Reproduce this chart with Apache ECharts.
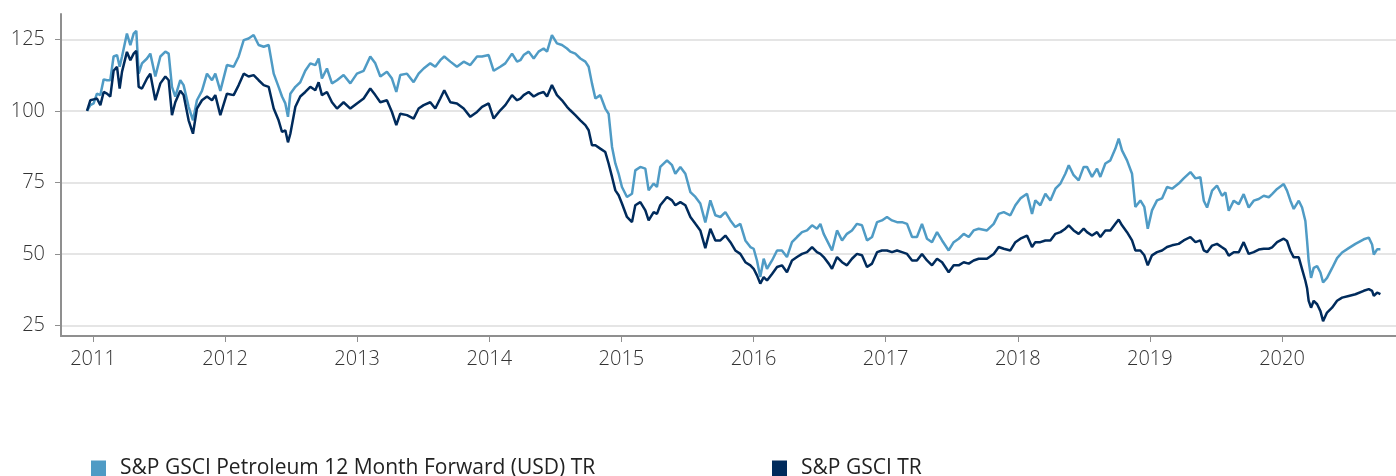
<!DOCTYPE html>
<html>
<head>
<meta charset="utf-8">
<script src="https://cdn.jsdelivr.net/npm/echarts@6/dist/echarts.min.js"></script>
<style>
  html, body { margin: 0; padding: 0; background: #fff; }
  #chart { width: 1396px; height: 476px; }
</style>
</head>
<body>
<div id="chart"></div>
<script>
// decimal year of each reading, shared by both series
const dates = [
  2010.955, 2010.980, 2011.005, 2011.030, 2011.056, 2011.081, 2011.106, 2011.131, 2011.156, 2011.182,
  2011.202, 2011.220, 2011.257, 2011.283, 2011.308, 2011.328, 2011.346, 2011.371, 2011.409, 2011.434,
  2011.472, 2011.510, 2011.548, 2011.573, 2011.598, 2011.623, 2011.661, 2011.686, 2011.724, 2011.757,
  2011.787, 2011.825, 2011.863, 2011.901, 2011.926, 2011.964, 2012.014, 2012.065, 2012.103, 2012.141,
  2012.178, 2012.216, 2012.254, 2012.292, 2012.330, 2012.368, 2012.405, 2012.431, 2012.456, 2012.476,
  2012.494, 2012.532, 2012.569, 2012.607, 2012.645, 2012.683, 2012.708, 2012.733, 2012.771, 2012.809,
  2012.847, 2012.897, 2012.948, 2012.998, 2013.049, 2013.099, 2013.137, 2013.175, 2013.225, 2013.263,
  2013.296, 2013.326, 2013.377, 2013.427, 2013.465, 2013.503, 2013.553, 2013.591, 2013.629, 2013.659,
  2013.705, 2013.755, 2013.806, 2013.856, 2013.907, 2013.945, 2013.995, 2014.033, 2014.083, 2014.121,
  2014.172, 2014.210, 2014.235, 2014.260, 2014.298, 2014.336, 2014.373, 2014.411, 2014.437, 2014.474,
  2014.512, 2014.550, 2014.588, 2014.613, 2014.651, 2014.689, 2014.727, 2014.752, 2014.777, 2014.803,
  2014.840, 2014.878, 2014.903, 2014.929, 2014.954, 2014.979, 2015.004, 2015.042, 2015.080, 2015.105,
  2015.143, 2015.181, 2015.206, 2015.244, 2015.269, 2015.294, 2015.345, 2015.383, 2015.408, 2015.446,
  2015.484, 2015.522, 2015.560, 2015.597, 2015.635, 2015.673, 2015.711, 2015.749, 2015.787, 2015.825,
  2015.862, 2015.900, 2015.938, 2015.976, 2016.001, 2016.026, 2016.051, 2016.077, 2016.102, 2016.140,
  2016.178, 2016.215, 2016.253, 2016.291, 2016.329, 2016.367, 2016.405, 2016.443, 2016.480, 2016.506,
  2016.531, 2016.569, 2016.594, 2016.632, 2016.670, 2016.707, 2016.745, 2016.783, 2016.821, 2016.859,
  2016.897, 2016.935, 2016.972, 2017.010, 2017.048, 2017.086, 2017.124, 2017.162, 2017.200, 2017.237,
  2017.275, 2017.313, 2017.351, 2017.389, 2017.427, 2017.477, 2017.515, 2017.553, 2017.591, 2017.629,
  2017.666, 2017.704, 2017.767, 2017.818, 2017.856, 2017.894, 2017.944, 2017.982, 2018.020, 2018.070,
  2018.108, 2018.133, 2018.171, 2018.209, 2018.247, 2018.285, 2018.323, 2018.360, 2018.386, 2018.423,
  2018.461, 2018.499, 2018.524, 2018.562, 2018.600, 2018.625, 2018.663, 2018.701, 2018.739, 2018.764,
  2018.789, 2018.827, 2018.865, 2018.890, 2018.928, 2018.958, 2018.984, 2019.016, 2019.054, 2019.092,
  2019.130, 2019.168, 2019.218, 2019.256, 2019.307, 2019.345, 2019.382, 2019.408, 2019.433, 2019.471,
  2019.508, 2019.546, 2019.572, 2019.597, 2019.635, 2019.673, 2019.710, 2019.748, 2019.786, 2019.824,
  2019.862, 2019.900, 2019.925, 2019.963, 2020.013, 2020.038, 2020.064, 2020.089, 2020.127, 2020.152,
  2020.177, 2020.190, 2020.202, 2020.220, 2020.240, 2020.266, 2020.291, 2020.311, 2020.341, 2020.379,
  2020.417, 2020.455, 2020.505, 2020.556, 2020.619, 2020.657, 2020.682, 2020.695, 2020.720, 2020.745
]

const petroleum = [
  100, 102, 102.6, 106, 105.5, 111, 110.7, 110.7, 119, 119.5,
  115.4, 119, 127, 123, 127, 128, 113, 116.6, 118.3, 120,
  112, 119, 120.7, 120, 108.4, 105, 110.7, 109, 101.4, 96.7,
  103.7, 107, 113, 110.7, 113, 107, 116, 115.4, 119, 124.7,
  125.3, 126.5, 123, 122.4, 123, 113, 108.4, 105, 102.6, 97.9,
  106, 108.4, 110, 114, 116.6, 116, 118.3, 111.3, 114.8, 109.6,
  110.7, 112.5, 109.6, 113, 114, 119, 116.6, 112, 113.7, 111.3,
  106.6, 112.5, 113, 110, 113, 114.8, 116.6, 115.4, 117.7, 119,
  117.2, 115.4, 117.2, 116, 119, 119, 119.5, 114, 115.4, 116.6,
  120, 117.2, 117.7, 119.5, 120.7, 118.3, 120.7, 121.8, 120.7, 126.5,
  123.6, 123, 121.8, 120.7, 120, 118.3, 117.2, 115.4, 109.6, 104.3,
  105.5, 100.8, 99, 87.4, 81.6, 78, 73.4, 69.9, 71, 79.2,
  80.4, 79.8, 72.2, 74.6, 73.4, 80.4, 82.7, 81, 78, 80.4,
  78, 71.6, 69.9, 67.6, 61, 68.7, 63.5, 62.9, 64.6, 61.7,
  59.4, 60.5, 54.7, 52.4, 51.8, 47.7, 41.9, 48.3, 44.8, 47.7,
  51.2, 51.2, 48.9, 54.1, 55.9, 57.6, 58.2, 60, 58.8, 60.5,
  57, 53.5, 51.2, 58.2, 54.7, 57, 58.2, 60.5, 60, 54.7,
  55.9, 61.1, 61.7, 62.9, 61.7, 61.1, 61.1, 60.5, 55.9, 55.9,
  60.5, 55.3, 54.1, 57.6, 54.7, 51.2, 54.1, 55.3, 57, 55.9,
  58.2, 58.8, 58.2, 60.5, 64, 64.6, 63.5, 67, 69.4, 71,
  64, 68.7, 67, 71, 68.7, 72.8, 74.6, 78, 81, 77.5,
  75.7, 80.4, 80.4, 76.9, 79.8, 76.9, 81.6, 82.7, 86.8, 90.3,
  86.2, 82.7, 78, 66.4, 68.7, 66.4, 58.8, 65.2, 68.7, 69.4,
  73.4, 72.8, 74.6, 76.4, 78.6, 76.4, 76.8, 68.6, 66.2, 72.1,
  73.9, 70.3, 71.5, 65.1, 68.6, 67.4, 70.9, 66.2, 68.6, 69.2,
  70.3, 69.8, 70.9, 72.7, 74.4, 72.1, 68.6, 65.7, 68.6, 66.2,
  61.5, 54.5, 47.5, 41.6, 45.1, 45.7, 43.5, 40, 41.6, 45,
  48.5, 50.5, 52, 53.5, 55.1, 55.7, 53.3, 49.8, 51.6, 51.6
]

const gsci = [
  100, 103.7, 104, 104.3, 102, 106.6, 106, 105, 114, 115.4,
  107.8, 113.7, 120.6, 117.7, 120, 121, 108.4, 107.8, 111.3, 113,
  103.7, 109.6, 112, 110.7, 98.5, 103, 107, 105.5, 96.7, 92,
  100.8, 103.7, 105, 103.7, 105.5, 98.5, 106, 105.5, 109, 113,
  112, 112.5, 110.7, 109, 108.4, 100.8, 96.7, 92.6, 93.2, 89,
  92, 101.4, 105, 106.6, 108.4, 107.2, 110, 105.5, 106.6, 103,
  100.8, 103, 100.8, 102.6, 104.3, 107.8, 105.5, 103, 103.7, 99.6,
  95, 99, 98.5, 97.3, 100.8, 102, 103, 100.8, 104.3, 107.2,
  103, 102.6, 100.8, 97.9, 99.6, 101.4, 102.6, 97.3, 100.2, 102,
  105.5, 103.7, 104.3, 105.5, 106.6, 105, 106, 106.6, 105, 109,
  105.5, 103.7, 101.4, 100.2, 98.5, 96.7, 95, 93.2, 88, 88,
  86.8, 85.6, 81.6, 76.9, 72.2, 70.5, 67.6, 62.9, 61.1, 67,
  68.1, 65.2, 61.7, 64.6, 64, 67, 69.9, 68.7, 67, 68.1,
  67, 62.9, 60.5, 58.2, 52, 58.8, 54.7, 54.7, 56.4, 54.1,
  51.2, 50, 47.1, 46, 44.8, 42.5, 39.6, 41.9, 40.7, 43,
  45.4, 46, 43.6, 47.7, 48.9, 50, 50.6, 52.4, 50.6, 50,
  48.9, 46.6, 44.8, 48.9, 47.1, 46, 48.3, 50, 49.5, 45.4,
  46.6, 50.6, 51.2, 51.2, 50.6, 51.2, 50.6, 50, 47.7, 47.7,
  50, 47.7, 46, 48.3, 47.1, 43.6, 46, 46, 47.1, 46.6,
  47.7, 48.3, 48.3, 50, 52.4, 51.8, 51.2, 54.1, 55.3, 56.4,
  52.4, 54.1, 54.1, 54.7, 54.7, 57, 57.6, 58.8, 60, 58.2,
  57, 58.8, 57.6, 56.4, 57.6, 55.9, 58.2, 58.2, 60.5, 62,
  60, 57.6, 54.7, 51.2, 51.2, 49.5, 46, 49.5, 50.6, 51.2,
  52.4, 53, 53.5, 54.7, 55.9, 54.1, 54.7, 51.2, 50.6, 52.9,
  53.5, 52.3, 51.5, 49.4, 50.6, 50.6, 54.1, 50, 50.6, 51.5,
  51.8, 51.8, 52.3, 54.1, 55.3, 54.5, 51, 48.8, 48.8, 44.7,
  40.6, 38, 33.6, 31.2, 33.6, 32.4, 30, 26.5, 29.5, 31.2,
  33.6, 34.7, 35.3, 35.9, 37.1, 37.7, 37.1, 35.3, 36.5, 35.9
]

const yearTicks = [2011, 2012, 2013, 2014, 2015, 2016, 2017, 2018, 2019, 2020]
const valueTicks = [25, 50, 75, 100, 125]
const seriesNames = ['S&P GSCI Petroleum 12 Month Forward (USD) TR', 'S&P GSCI TR']
const seriesColors = ['#4f9bc5', '#002b5c']

const chart = echarts.init(document.getElementById('chart'))

const axisGray = '#8f8f8f'
const labelFont = {
  fontFamily: 'Open Sans',
  fontSize: 20,
  fontWeight: 300,
  color: '#333'
}
const legendText = {
  fontFamily: 'Open Sans',
  fontSize: 21,
  color: '#222',
  padding: [0, 0, 0, 9]
}

function pairs(values) {
  return dates.map((d, i) => [d, values[i]])
}

chart.setOption({
  backgroundColor: '#fff',
  animation: false,
  grid: {
    left: 61,
    right: 0,
    top: 14,
    bottom: 140
  },
  legend: [
    {
      data: [seriesNames[0]],
      left: 91,
      top: 458,
      padding: 0,
      icon: 'rect',
      itemWidth: 15,
      itemHeight: 16,
      textStyle: legendText
    },
    {
      data: [seriesNames[1]],
      left: 772,
      top: 458,
      padding: 0,
      icon: 'rect',
      itemWidth: 15,
      itemHeight: 16,
      textStyle: legendText
    }
  ],
  xAxis: {
    type: 'value',
    min: 2010.758,
    max: 2020.863,
    axisLine: { lineStyle: { color: axisGray, width: 2 } },
    axisTick: {
      show: true,
      length: 6,
      customValues: yearTicks,
      lineStyle: { color: axisGray, width: 1 }
    },
    axisLabel: {
      customValues: yearTicks,
      margin: 13,
      formatter: v => String(Math.round(v)),
      ...labelFont
    },
    splitLine: { show: false }
  },
  yAxis: {
    type: 'value',
    min: 21.3,
    max: 133.85,
    axisLine: { show: true, lineStyle: { color: axisGray, width: 2 } },
    axisTick: {
      show: true,
      length: 6,
      customValues: valueTicks,
      lineStyle: { color: axisGray, width: 1 }
    },
    axisLabel: {
      customValues: valueTicks,
      margin: 16,
      ...labelFont
    },
    splitLine: {
      show: true,
      lineStyle: { color: '#dcdcdc', width: 1.5 }
    }
  },
  series: [
    {
      name: seriesNames[0],
      type: 'line',
      data: pairs(petroleum),
      showSymbol: false,
      color: seriesColors[0],
      lineStyle: { width: 2.5 }
    },
    {
      name: seriesNames[1],
      type: 'line',
      data: pairs(gsci),
      showSymbol: false,
      color: seriesColors[1],
      lineStyle: { width: 2.5 }
    }
  ]
})
</script>
</body>
</html>
